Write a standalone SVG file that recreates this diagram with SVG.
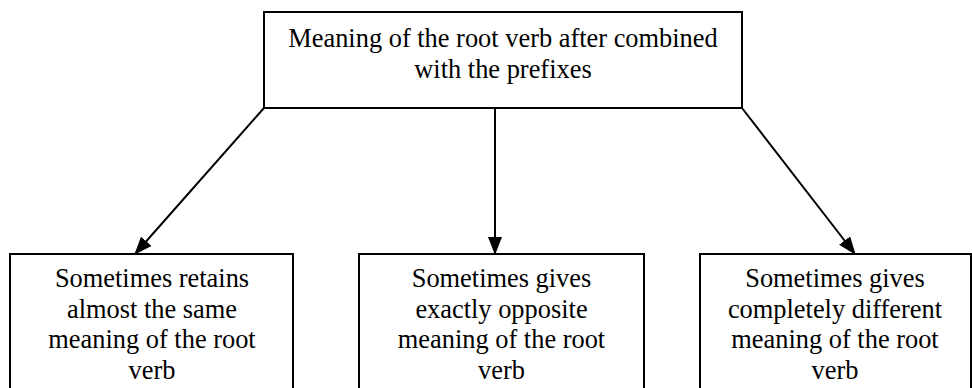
<svg xmlns="http://www.w3.org/2000/svg" width="972" height="388" viewBox="0 0 972 388">
<style>
.box{fill:#fff;stroke:#000;stroke-width:2}
.t{font-family:'Liberation Serif','Times New Roman',Times,'DejaVu Serif',serif;font-size:26.4px;fill:#000;text-anchor:middle}
.c{stroke:#000;stroke-width:2;fill:none;marker-end:url(#ah)}
</style>
<defs>
<marker id="ah" viewBox="0 0 18 14" refX="17" refY="7" markerWidth="18" markerHeight="14" markerUnits="userSpaceOnUse" orient="auto">
<path d="M0,0 L18,7 L0,14 Z" fill="#000"/>
</marker>
</defs>
<g id="connectors">
<line class="c" x1="264" y1="108" x2="135" y2="254"/>
<line class="c" x1="495" y1="108" x2="495" y2="254"/>
<line class="c" x1="742" y1="108" x2="855" y2="254"/>
</g>
<g id="root">
<rect class="box" x="264" y="12" width="478" height="96"/>
<text class="t" x="503" y="47">Meaning of the root verb after combined</text>
<text class="t" x="503" y="77.5">with the prefixes</text>
</g>
<g id="same">
<rect class="box" x="10" y="254" width="283" height="140"/>
<text class="t" x="152" y="287">Sometimes retains</text>
<text class="t" x="152" y="317.5">almost the same</text>
<text class="t" x="152" y="348">meaning of the root</text>
<text class="t" x="152" y="378.5">verb</text>
</g>
<g id="opposite">
<rect class="box" x="359" y="254" width="285" height="140"/>
<text class="t" x="501.5" y="287">Sometimes gives</text>
<text class="t" x="501.5" y="317.5">exactly opposite</text>
<text class="t" x="501.5" y="348">meaning of the root</text>
<text class="t" x="501.5" y="378.5">verb</text>
</g>
<g id="different">
<rect class="box" x="700" y="254" width="271" height="140"/>
<text class="t" x="835" y="287">Sometimes gives</text>
<text class="t" x="835" y="317.5">completely different</text>
<text class="t" x="835" y="348">meaning of the root</text>
<text class="t" x="835" y="378.5">verb</text>
</g>
</svg>
